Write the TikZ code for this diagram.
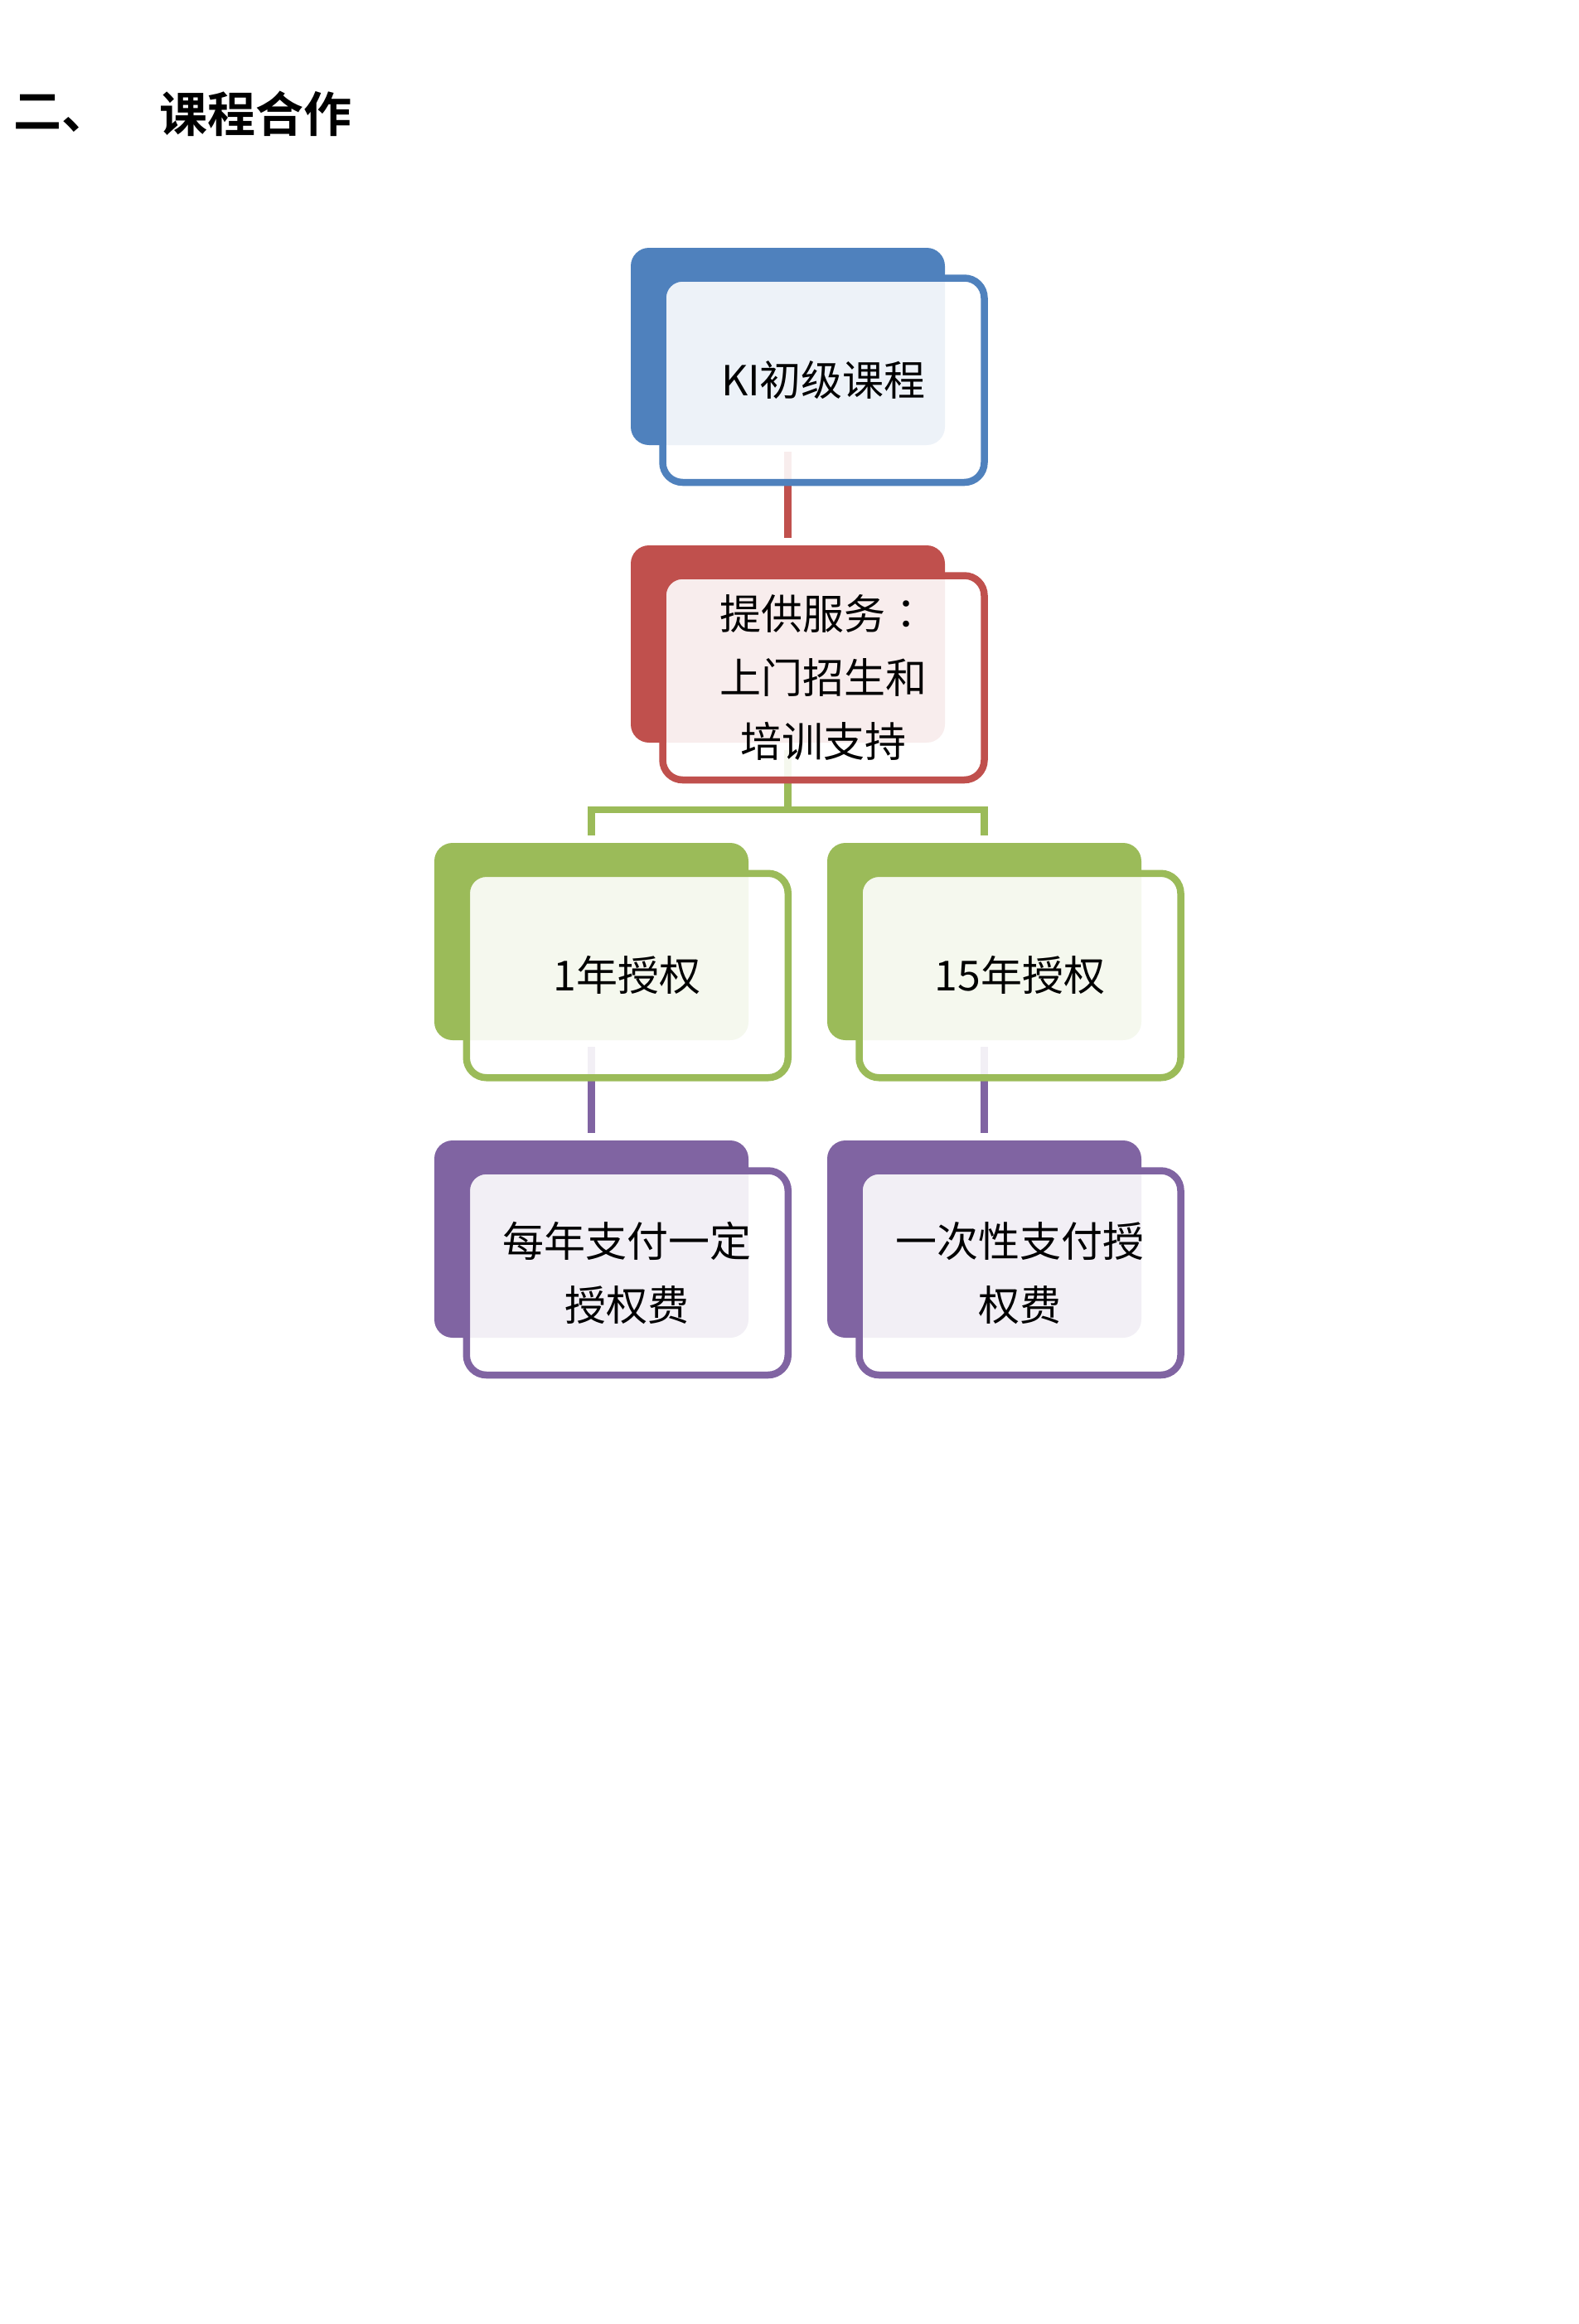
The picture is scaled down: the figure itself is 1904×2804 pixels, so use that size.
\documentclass[tikz,border=0pt]{standalone}
\usepackage{fontspec}
\setmainfont{Noto Sans CJK SC}
\newfontfamily\cjk{Noto Sans CJK SC}
\newfontfamily\cjktc{Noto Sans CJK TC}
\newfontfamily\cjkbold{Noto Sans CJK SC Bold}
\usetikzlibrary{calc}
\definecolor{cblue}{HTML}{4F81BD}
\definecolor{cred}{HTML}{C0504D}
\definecolor{cgreen}{HTML}{9BBB59}
\definecolor{cpurple}{HTML}{8064A2}
\tikzset{
  backbox/.style={fill=#1, draw=none, rounded corners=22pt, minimum width=379pt, minimum height=238pt, inner sep=0pt},
  frontbox/.style={draw=#1, line width=8.5pt, fill=white, fill opacity=0.9, text opacity=1, rounded corners=24pt, minimum width=388pt, minimum height=246.5pt, inner sep=0pt, align=center, font=\cjk\fontsize{50}{77}\selectfont, text=black},
  conn/.style={draw=#1, line width=8.5pt},
  headtext/.style={anchor=west, inner sep=0pt, font=\cjkbold\fontsize{58}{64}\selectfont, text=black}
}
\begin{document}
\begin{tikzpicture}[x=1pt,y=-1pt]
\useasboundingbox (0,0) rectangle (1904,2804);
% heading
\node[headtext] (h1) at (16,137) {二、};
\node[headtext] (h2) at (192,137) {课程合作};
% back boxes
\node[backbox=cblue] (bB) at (950.5,418) {};
\node[backbox=cred] (bR) at (950.5,777) {};
\node[backbox=cgreen] (bGL) at (713.5,1136) {};
\node[backbox=cgreen] (bGR) at (1187.5,1136) {};
\node[backbox=cpurple] (bPL) at (713.5,1495) {};
\node[backbox=cpurple] (bPR) at (1187.5,1495) {};
% connectors
\coordinate (j) at (950.5,977);
\draw[conn=cred] ($(bB.south)+(0,8)$) -- ($(bR.north)+(0,-9)$);
\draw[conn=cgreen] ($(bR.south)+(0,9)$) -- (j);
\draw[conn=cgreen] ($(bGL.north)+(0,-9)$) -- ($(bGL.north)+(0,-40)$) -| ($(bGR.north)+(0,-9)$);
\draw[conn=cpurple] ($(bGL.south)+(0,8)$) -- ($(bPL.north)+(0,-9)$);
\draw[conn=cpurple] ($(bGR.south)+(0,8)$) -- ($(bPR.north)+(0,-9)$);
% front boxes
\node[frontbox=cblue] (fB) at (993.5,458.75) {KI初级课程};
\node[frontbox=cred] (fR) at (993.5,817.75) {提供服务{\cjktc ：}\\上门招生和\\培训支持};
\node[frontbox=cgreen] (fGL) at (756.75,1177) {1年授权};
\node[frontbox=cgreen] (fGR) at (1230.5,1177) {15年授权};
\node[frontbox=cpurple] (fPL) at (756.75,1535.75) {每年支付一定\\授权费};
\node[frontbox=cpurple] (fPR) at (1230.5,1535.75) {一次性支付授\\权费};
\end{tikzpicture}
\end{document}
